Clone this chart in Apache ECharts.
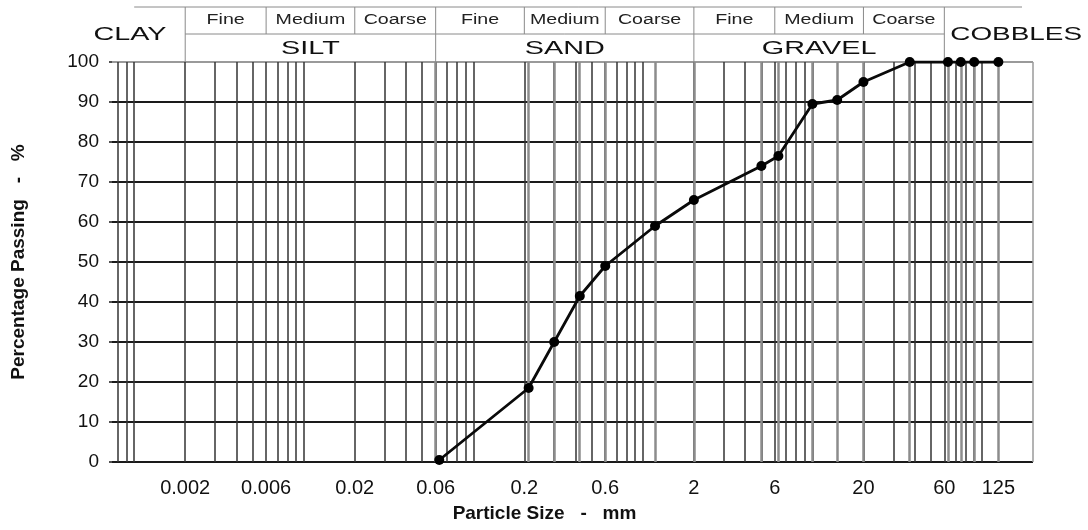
<!DOCTYPE html>
<html><head><meta charset="utf-8">
<script src="https://cdn.jsdelivr.net/npm/echarts@6/dist/echarts.min.js"></script>
<style>html,body{margin:0;padding:0;background:#fff}#c{width:1088px;height:530px}</style>
</head><body><div id="c"></div>
<script>
// ---- data ----
const particleSizes = [0.063, 0.212, 0.3, 0.425, 0.6, 1.18, 2, 5, 6.3, 10, 14, 20, 37.5, 63, 75, 90, 125];
const percentPassing = [0.5, 18.5, 30, 41.5, 49, 59, 65.5, 74, 76.5, 89.5, 90.5, 95, 100, 100, 100, 100, 100];
const xTickValues = [0.002, 0.006, 0.02, 0.06, 0.2, 0.6, 2, 6, 20, 60, 125];
const xTickLabels = ['0.002', '0.006', '0.02', '0.06', '0.2', '0.6', '2', '6', '20', '60', '125'];
const gridDecades = [0.0001, 0.001, 0.01, 0.1, 1, 10, 100];
const gridMantissas = [1, 2, 3, 4, 5, 6, 7, 8, 9];
const soilClasses = ['CLAY', 'SILT', 'SAND', 'GRAVEL', 'COBBLES'];
const classBounds = [0.002, 0.06, 2, 60];
const subClasses = ['Fine', 'Medium', 'Coarse'];
const subBounds = [[0.002, 0.006, 0.02, 0.06], [0.06, 0.2, 0.6, 2], [2, 6, 20, 60]];

const xMin = 0.00074, xMax = 200;
const FONT = '"Liberation Sans", Arial, sans-serif';

// log grid lines (1..9 per decade) inside the axis range, plus right border
const gridLines = [];
gridDecades.forEach(d => gridMantissas.forEach(m => {
  const v = m * d;
  if (v >= xMin && v <= 100.0001) gridLines.push(v);
}));
gridLines.push(xMax * 0.9995);
const xLineColors = gridLines.map((v, i) => i === gridLines.length - 1 ? '#9a9a9a' : '#333333');
const yLineColors = [0,10,20,30,40,50,60,70,80,90,100].map(v => v === 100 ? '#9a9a9a' : '#1a1a1a');

const chart = echarts.init(document.getElementById('c'), null, {renderer: 'canvas'});
chart.setOption({
  animation: false,
  backgroundColor: '#fff',
  grid: {left: 112, right: 55, top: 62, bottom: 68, containLabel: false},
  xAxis: {
    type: 'log', logBase: 10, min: xMin, max: xMax,
    name: 'Particle Size   -   mm', nameLocation: 'middle', nameGap: 42,
    nameTextStyle: {fontFamily: FONT, fontSize: 19, fontWeight: 'bold', color: '#111', padding: [0, 56, 0, 0]},
    axisLine: {show: false},
    axisTick: {show: false, customValues: gridLines},
    minorTick: {show: false}, minorSplitLine: {show: false},
    splitLine: {show: true, lineStyle: {color: xLineColors, width: 1.5}},
    axisLabel: {
      customValues: xTickValues, margin: 16,
      fontFamily: FONT, fontSize: 20, color: '#111',
      formatter: function (v) {
        for (let i = 0; i < xTickValues.length; i++) {
          if (Math.abs(v / xTickValues[i] - 1) < 1e-4) return xTickLabels[i];
        }
        return '';
      }
    }
  },
  yAxis: {
    type: 'value', min: 0, max: 100, interval: 10,
    name: 'Percentage Passing   -   %', nameLocation: 'middle', nameGap: 84,
    nameTextStyle: {fontFamily: FONT, fontSize: 19, fontWeight: 'bold', color: '#111'},
    axisLine: {show: false},
    axisTick: {show: true, length: 3, lineStyle: {color: '#1a1a1a', width: 1.5}},
    splitLine: {show: true, lineStyle: {color: yLineColors, width: 1.8}},
    axisLabel: {fontFamily: FONT, fontSize: 19, color: '#111', margin: 13}
  },
  series: [
    {
      type: 'line', data: [], z: 1, silent: true,
      markLine: {
        silent: true, symbol: ['none', 'none'], animation: false,
        label: {show: false},
        lineStyle: {color: '#8c8c8c', width: 2.5, type: 'solid'},
        data: particleSizes.map(s => ({xAxis: s}))
      }
    },
    {
      type: 'line', z: 5,
      data: particleSizes.map((s, i) => [s, percentPassing[i]]),
      symbol: 'circle', symbolSize: 10,
      itemStyle: {color: '#000'},
      lineStyle: {color: '#0a0a0a', width: 2.8}
    }
  ]
});

// ---- header table (soil classification), positioned from the x axis ----
const px = v => chart.convertToPixel({xAxisIndex: 0}, v);
const LINE = {stroke: '#8a8a8a', lineWidth: 1};
const yTop = 7, yMid = 34, yBot = 62;
const g = [];
const hline = (x1, x2, y) => g.push({type: 'line', shape: {x1, y1: y, x2, y2: y}, style: LINE, silent: true});
const vline = (x, y1, y2) => g.push({type: 'line', shape: {x1: x, y1, x2: x, y2}, style: LINE, silent: true});
const txt = (t, x, y, size, sx, color) => g.push({
  type: 'text', x, y, scaleX: sx, silent: true,
  style: {text: t, fontFamily: FONT, fontSize: size, fill: color,
          align: 'center', verticalAlign: 'middle', textAlign: 'center', textVerticalAlign: 'middle'}
});
hline(px(0.001), 1022, yTop);
hline(px(classBounds[0]), px(classBounds[3]), yMid);
classBounds.forEach(b => vline(px(b), yTop, yBot));
subBounds.forEach((sb, k) => {
  vline(px(sb[1]), yTop, yMid);
  vline(px(sb[2]), yTop, yMid);
  for (let j = 0; j < 3; j++) {
    txt(subClasses[j], (px(sb[j]) + px(sb[j + 1])) / 2, 20, 14, 1.4, '#222');
  }
  txt(soilClasses[k + 1], (px(sb[0]) + px(sb[3])) / 2, 49, 18, 1.6, '#111');
});
txt(soilClasses[0], 130, 35, 18, 1.6, '#111');
txt(soilClasses[4], (px(classBounds[3]) + 1088) / 2, 35, 18, 1.55, '#111');
chart.setOption({graphic: {elements: g}});
</script>
</body></html>
